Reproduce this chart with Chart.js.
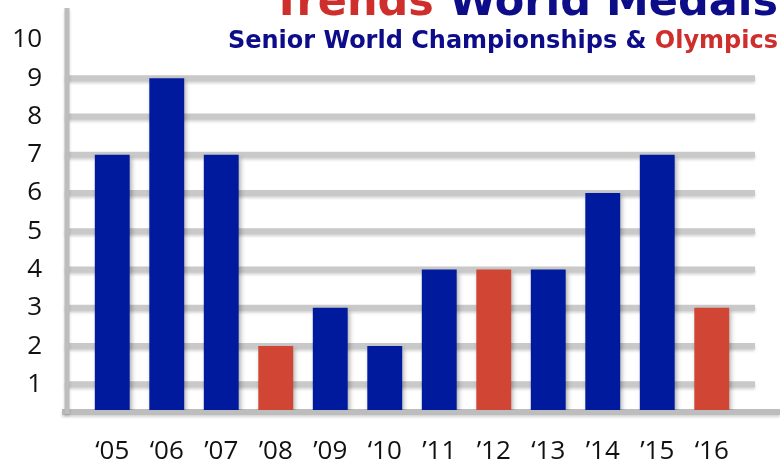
<!DOCTYPE html>
<html>
<head>
<meta charset="utf-8">
<script src="https://cdn.jsdelivr.net/npm/chart.js@4"></script>
<style>
  html, body { margin: 0; padding: 0; background: #fff; }
  #wrap { width: 780px; height: 463px; position: relative; }
</style>
</head>
<body>
<div id="wrap"><canvas id="chart"></canvas></div>
<script>
"use strict";

/* ============================================================
   DATA
============================================================ */
const years = ["\u201805", "\u201806", "\u201907", "\u201908", "\u201909", "\u201810",
               "\u201911", "\u201912", "\u201813", "\u201914", "\u201915", "\u201816"];
const medals = [7, 9, 7, 2, 3, 2, 4, 4, 4, 6, 7, 3];
const olympicYears = ["\u201908", "\u201912", "\u201816"];
const yTicks = [1, 2, 3, 4, 5, 6, 7, 8, 9, 10];

const BLUE = "#001a9e";
const RED = "#d14535";
const NAVY = "#0d0d8a";
const TITLE_RED = "#cf2f2c";
const TITLE_FONT = "'DejaVu Sans', sans-serif";
const TICK_FONT = "'Open Sans', 'Noto Sans', sans-serif";

/* ============================================================
   PLUGINS
============================================================ */
// back wall grid + axis lines, drawn wider than the bar plane
const wallPlugin = {
  id: "wall",
  beforeDatasetsDraw(chart) {
    const ctx = chart.ctx;
    const y = chart.scales.y;
    ctx.save();
    ctx.shadowColor = "rgba(0,0,0,0.18)";
    ctx.shadowBlur = 3;
    ctx.shadowOffsetY = 2;
    ctx.strokeStyle = "#c9c9c9";
    ctx.lineWidth = 6;
    yTicks.filter(v => v < 10).forEach(v => {
      const py = y.getPixelForValue(v);
      ctx.beginPath();
      ctx.moveTo(65, py);
      ctx.lineTo(755, py);
      ctx.stroke();
    });
    // floor
    ctx.strokeStyle = "#bdbdbd";
    const base = y.getPixelForValue(y.min) + 2;
    ctx.beginPath();
    ctx.moveTo(62, base);
    ctx.lineTo(780, base);
    ctx.stroke();
    // vertical axis
    ctx.lineWidth = 5;
    ctx.beginPath();
    ctx.moveTo(67, 8);
    ctx.lineTo(67, base + 2);
    ctx.stroke();
    ctx.restore();

    // bar shadow
    ctx.save();
    ctx.shadowColor = "rgba(0,0,0,0.35)";
    ctx.shadowBlur = 5;
    ctx.shadowOffsetX = 2;
    ctx.shadowOffsetY = 3;
  },
  afterDatasetsDraw(chart) {
    chart.ctx.restore();
  }
};

const titlePlugin = {
  id: "titleText",
  afterDraw(chart) {
    const ctx = chart.ctx;
    ctx.save();
    ctx.textBaseline = "alphabetic";
    ctx.textAlign = "left";
    ctx.font = "bold 43px " + TITLE_FONT;
    ctx.fillStyle = TITLE_RED;
    ctx.fillText("Trends", 272, 15);
    const w = ctx.measureText("Trends ").width;
    ctx.fillStyle = NAVY;
    ctx.fillText("World Medals", 272 + w, 15);

    ctx.font = "bold 24px " + TITLE_FONT;
    const sub1 = "Senior World Championships & ";
    const sub2 = "Olympics";
    const total = ctx.measureText(sub1 + sub2).width;
    const x0 = 778 - total;
    ctx.fillStyle = NAVY;
    ctx.fillText(sub1, x0, 48);
    ctx.fillStyle = TITLE_RED;
    ctx.fillText(sub2, x0 + ctx.measureText(sub1).width, 48);
    ctx.restore();
  }
};

/* ============================================================
   CHART
============================================================ */
new Chart(document.getElementById("chart").getContext("2d"), {
  type: "bar",
  data: {
    labels: years,
    datasets: [{
      data: medals,
      backgroundColor: years.map(y => olympicYears.includes(y) ? RED : BLUE),
      borderWidth: 0,
      barPercentage: 0.64,
      categoryPercentage: 1
    }]
  },
  options: {
    responsive: true,
    maintainAspectRatio: false,
    animation: false,
    layout: { padding: { left: 0, right: 41, top: 40, bottom: 0 } },
    plugins: {
      legend: { display: false },
      tooltip: { enabled: false }
    },
    scales: {
      x: {
        grid: { display: false, drawTicks: false },
        border: { display: false },
        ticks: {
          color: "#111",
          font: { family: TICK_FONT, size: 26 },
          padding: 26,
          maxRotation: 0
        },
        afterFit(scale) { scale.height = 53; }
      },
      y: {
        min: 0.33,
        max: 10,
        grid: { display: false, drawTicks: false },
        border: { display: false },
        afterBuildTicks(scale) { scale.ticks = yTicks.map(v => ({ value: v })); },
        ticks: {
          color: "#111",
          font: { family: TICK_FONT, size: 26 },
          padding: 43
        },
        afterFit(scale) {
          scale.width = 85;
          scale.paddingTop = 0;
          scale.paddingBottom = 0;
        }
      }
    }
  },
  plugins: [wallPlugin, titlePlugin]
});
</script>
</body>
</html>
